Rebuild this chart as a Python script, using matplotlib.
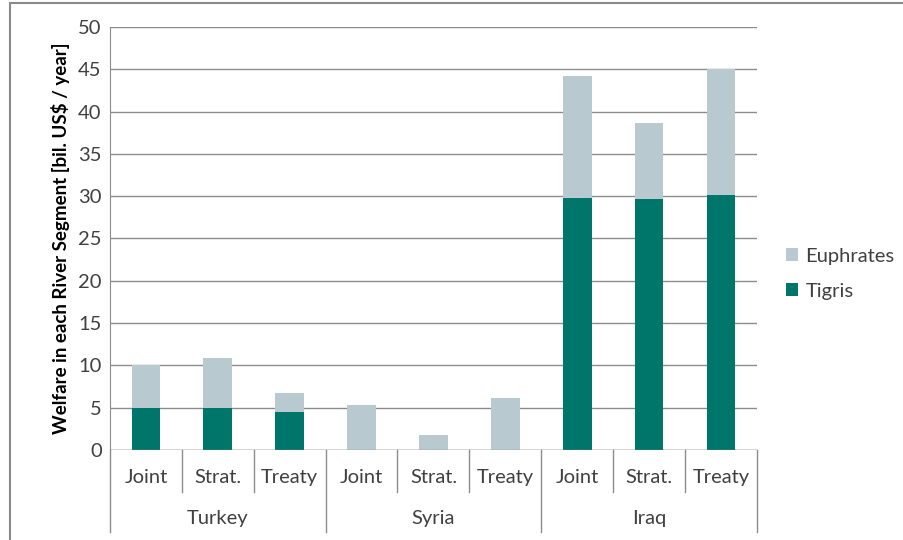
import numpy as np
import matplotlib.pyplot as plt
import matplotlib.transforms as mtransforms
from matplotlib.patches import Rectangle

plt.rcParams['font.family'] = ['Lato', 'DejaVu Sans']

countries = ['Turkey', 'Syria', 'Iraq']
scenarios = ['Joint', 'Strat.', 'Treaty']
tigris = [5.0, 5.0, 4.5, 0.0, 0.0, 0.0, 29.8, 29.7, 30.1]
euphrates = [5.0, 5.9, 2.2, 5.3, 1.8, 6.2, 14.4, 8.9, 14.9]

tig_col = '#00756A'
euph_col = '#B8C9D0'
grid_col = '#8C8C8C'
text_col = '#404040'

fig = plt.figure(figsize=(9.04, 5.4), dpi=100)
ax = fig.add_axes([0.1217, 0.1667, 0.7155, 0.7833])

x = np.arange(len(tigris))
ax.bar(x, tigris, width=0.4, color=tig_col, label='Tigris', zorder=3)
ax.bar(x, euphrates, width=0.4, bottom=tigris, color=euph_col, label='Euphrates', zorder=3)

ax.set_xlim(-0.5, len(tigris) - 0.5)
ax.set_ylim(0, 50)
ax.set_yticks(range(0, 51, 5))
ax.yaxis.grid(True, color=grid_col, linewidth=1)
ax.set_axisbelow(True)
ax.tick_params(axis='y', length=0, labelsize=14.5, labelcolor=text_col, pad=6)
ax.set_xticks([])
for s in ['top', 'right', 'bottom']:
    ax.spines[s].set_visible(False)
ax.spines['left'].set_color(grid_col)
ax.axhline(0, color=grid_col, linewidth=1, zorder=4)

ax.set_ylabel('Welfare in each River Segment [bil. US$ / year]', fontsize=13.5,
              fontweight='bold', color='black', labelpad=6)

# two-level category axis
trans = mtransforms.blended_transform_factory(ax.transData, ax.transAxes)
for i in range(len(tigris)):
    ax.text(i, -0.065, scenarios[i % 3], transform=trans, ha='center', va='center',
            fontsize=14.5, color=text_col)
for i in range(1, len(tigris)):
    bottom = -0.195 if i % 3 == 0 else -0.1
    ax.plot([i - 0.5, i - 0.5], [0, bottom], transform=trans, color=grid_col,
            linewidth=1, clip_on=False)
ax.plot([-0.5, -0.5], [0, -0.195], transform=trans, color=grid_col, linewidth=1, clip_on=False)
ax.plot([8.5, 8.5], [0, -0.195], transform=trans, color=grid_col, linewidth=1, clip_on=False)
for j, c in enumerate(countries):
    ax.text(3 * j + 1, -0.163, c, transform=trans, ha='center', va='center',
            fontsize=14.5, color=text_col)

handles, labels = ax.get_legend_handles_labels()
ax.legend(handles[::-1], labels[::-1], loc='center left', bbox_to_anchor=(1.03, 0.417),
          frameon=False, fontsize=14.5, handlelength=0.6, handleheight=0.6,
          handletextpad=0.35, labelspacing=0.9, labelcolor=text_col, borderpad=0)

# outer chart border
fig.patches.append(Rectangle((10 / 904, -0.1), 1.2, 1.1 - 3 / 540, transform=fig.transFigure,
                             fill=False, edgecolor='#8A8A8A', linewidth=1.5))

fig.savefig('out.png', dpi=100)
